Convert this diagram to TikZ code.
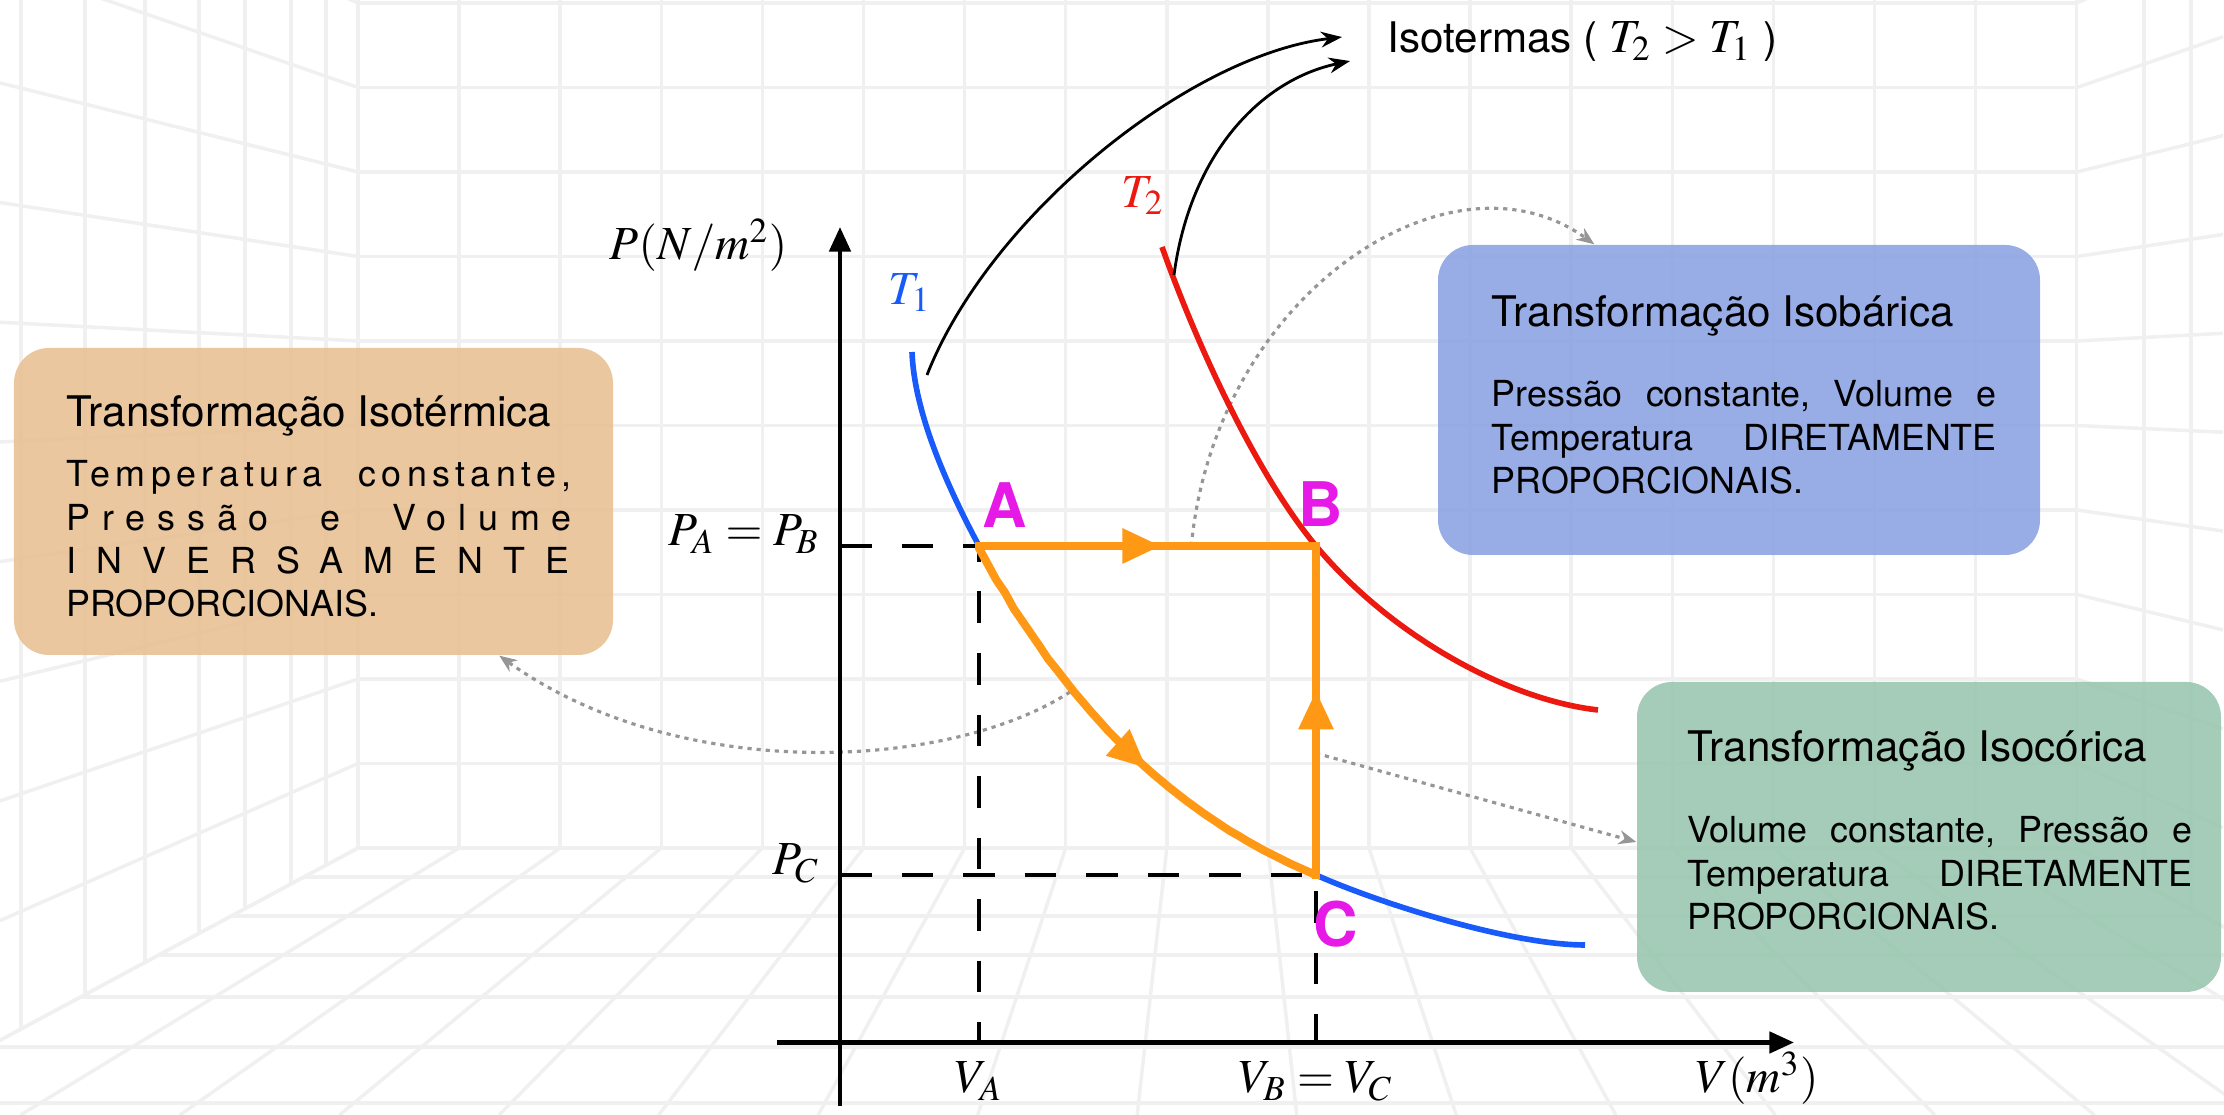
\documentclass[tikz,border=0pt]{standalone}
\usepackage{mathptmx}
\usepackage[no-math]{fontspec}
\setmainfont{TeX Gyre Heros}
\usetikzlibrary{arrows.meta,positioning,calc,decorations.markings}
\definecolor{isoblue}{RGB}{25,90,250}
\definecolor{isored}{RGB}{235,25,15}
\definecolor{cycorange}{RGB}{255,152,20}
\definecolor{ptmagenta}{RGB}{230,25,230}
\definecolor{boxorange}{RGB}{232,194,150}
\definecolor{boxblue}{RGB}{143,165,228}
\definecolor{boxgreen}{RGB}{156,200,178}
\definecolor{gridgray}{RGB}{240,240,240}
\definecolor{hintgray}{RGB}{150,150,150}
\newlength{\boxtw}
\setlength{\boxtw}{5.05cm}
\newcommand{\spaced}[2][0]{\makebox[\boxtw][l]{\addfontfeature{LetterSpace=#1}#2}}
\newcommand{\mathsz}{\fontsize{13.5}{16}\selectfont}

\begin{document}
\begin{tikzpicture}[
  roomline/.style={draw=gridgray, line width=1pt},
  infobox/.style={rounded corners=0.35cm, inner sep=0pt, fill opacity=0.92},
  boxtitle/.style={inner sep=0pt, font=\fontsize{12}{14}\selectfont},
  boxtext/.style={inner sep=0pt, text width=5.05cm, font=\fontsize{10.2}{12.3}\selectfont},
  mathlbl/.style={inner sep=0pt, font=\mathsz},
  ptlbl/.style={inner sep=0pt, ptmagenta, font=\fontsize{17.5}{20}\selectfont\bfseries},
  axisline/.style={line width=1.3pt, -{Triangle[length=7pt,width=6pt]}},
  guide/.style={line width=1.4pt, dash pattern=on 9pt off 8.5pt},
  isoline/.style={line width=1.6pt},
  procline/.style={cycorange, line width=2.3pt},
  midarrow/.style={postaction={decorate}, decoration={markings,
    mark=at position #1 with {\arrow{Triangle[length=11pt,width=9.5pt]}}}},
  tagarrow/.style={line width=0.8pt, -{Stealth[length=6pt,width=4.5pt]}},
  hintarrow/.style={hintgray, line width=0.9pt, dash pattern=on 1.2pt off 1.4pt,
    -{Stealth[length=5pt,width=4pt]}}]

\useasboundingbox (0,0) rectangle (22.24,11.15);

% background room
\begin{scope}
\clip (0,0) rectangle (22.24,11.15);
\coordinate (vp) at (12.18,7.29);
\foreach \i in {0,...,17}{
  \pgfmathsetmacro\xx{3.58+1.011*\i}
  \draw[roomline] (\xx,2.67) -- (\xx,11.15);
  \draw[roomline] (\xx,2.67) -- ($(vp)!1.578!(\xx,2.67)$);
}
\foreach \j in {0,...,12}{
  \pgfmathsetmacro\yy{2.67+0.845*\j}
  \draw[roomline] (3.58,\yy) -- (20.77,\yy);
  \draw[roomline] (3.58,\yy) -- ($(vp)!1.4163!(3.58,\yy)$);
  \draw[roomline] (20.77,\yy) -- ($(vp)!1.17!(20.77,\yy)$);
}
\foreach \x in {0.21,0.85,1.45,1.99,2.45,2.91,3.26}
  \draw[roomline] (\x,{2.67-(3.58-\x)*0.537}) -- (\x,11.15);
\foreach \x in {21.44,21.91}
  \draw[roomline] (\x,{2.67-(\x-20.77)*0.538}) -- (\x,11.15);
\foreach \y in {2.38,1.99,1.60,1.18,0.68,0.12}
  \draw[roomline] ({3.58-(2.67-\y)/0.537},\y) -- ({20.77+(2.67-\y)/0.538},\y);
\end{scope}

% boxes
\node[infobox, fill=boxorange, minimum width=5.99cm, minimum height=3.07cm] (isoT) at (3.135,6.135) {};
\node[infobox, fill=boxblue, minimum width=6.02cm, minimum height=3.10cm] (isoB) at (17.39,7.15) {};
\node[infobox, fill=boxgreen, minimum width=5.84cm, minimum height=3.10cm] (isoV) at (19.29,2.78) {};

\node[boxtitle, anchor=base west] (isoTtitle) at (0.66,6.88) {Transformação Isotérmica};
\node[boxtext, anchor=base west] (isoTbody) at (0.66,6.28) {%
  \spaced[15]{Temperatura \hfill constante,}\par
  \spaced[33]{Pressão \hfill e \hfill Volume}\par
  \spaced[56]{INVERSAMENTE}\par
  PROPORCIONAIS.};

\node[boxtitle, anchor=base west] (isoBtitle) at (14.91,7.88) {Transformação Isobárica};
\node[boxtext, anchor=base west] (isoBbody) at (14.91,7.08) {%
  \spaced{Pressão \hfill constante, \hfill Volume \hfill e}\par
  \spaced{Temperatura \hfill DIRETAMENTE}\par
  PROPORCIONAIS.};

\node[boxtitle, anchor=base west] (isoVtitle) at (16.87,3.53) {Transformação Isocórica};
\node[boxtext, anchor=base west] (isoVbody) at (16.87,2.72) {%
  \spaced{Volume \hfill constante, \hfill Pressão \hfill e}\par
  \spaced{Temperatura \hfill DIRETAMENTE}\par
  PROPORCIONAIS.};

% states
\coordinate (O) at (8.40,0.725);
\coordinate (A) at (9.79,5.69);
\coordinate (B) at (13.16,5.69);
\coordinate (C) at (13.16,2.40);
\path (A) -- (B) coordinate[pos=0.63] (isobar);
\path (C) -- (B) coordinate[pos=0.37] (isochor);
\coordinate (isotherm) at (10.70,4.23);

% hints to the boxes
\draw[hintarrow] (isobar) .. controls (12.15,8.2) and (14.5,9.75) .. ([xshift=1.57cm]isoB.north west);
\draw[hintarrow] (isotherm) .. controls (9.5,3.45) and (6.8,3.3) .. ([xshift=4.86cm]isoT.south west);
\draw[hintarrow] (isochor) -- ([yshift=-0.05cm]isoV.west);

% isotherms
\draw[isoline, isoblue] (9.12,7.63) .. controls (9.14,7.10) and (9.39,6.44) .. (A);
\draw[isoline, isoblue] (C) .. controls (13.76,2.13) and (15.10,1.70) .. (15.85,1.70);
\draw[isoline, isored] (11.62,8.68) .. controls (12.02,7.56) and (12.61,6.35) .. (B)
  .. controls (13.91,4.79) and (15.08,4.15) .. (15.98,4.05);

% guides and axes
\draw[guide] (O |- A) -- (A) -- (A |- O);
\draw[guide] (O |- C) -- (C) -- (C |- O);
\coordinate (ybot) at (8.40,0.09);
\coordinate (ytop) at (8.40,8.88);
\coordinate (xleft) at (7.77,0.725);
\coordinate (xright) at (17.94,0.725);
\draw[axisline] (ybot) -- (ytop);
\draw[axisline] (xleft) -- (xright);

% process
\draw[procline, midarrow=0.58] plot[domain=9.79:13.16, samples=40] (\x,{1.434+316.1*exp(-0.44*\x)});
\draw[procline, line cap=rect, midarrow=0.54] (A) -- (B);
\draw[procline, line cap=rect, midarrow=0.56] (C) -- (B);

% labels
\coordinate (vlbl) at (0,0.22);
\node[mathlbl, anchor=base east] (Plbl) at (7.88,8.55) {$P(N/m^2)$};
\node[mathlbl, anchor=base east] (PAlbl) at ($(O |- A)+(-0.2,0)$) {$P_A = P_B$};
\node[mathlbl, anchor=base east] (PClbl) at ($(O |- C)+(-0.2,0)$) {$P_C$};
\node[mathlbl, anchor=base] (VAlbl) at (A |- vlbl) {$V_A$};
\node[mathlbl, anchor=base] (VBlbl) at (C |- vlbl) {$V_B = V_C$};
\node[mathlbl, anchor=base] (Vlbl) at (17.57,0.22) {$V(m^3)$};
\node[mathlbl, isoblue] (T1lbl) at (9.10,8.22) {$T_1$};
\node[mathlbl, isored] (T2lbl) at (11.43,9.19) {$T_2$};
\node[ptlbl, anchor=base west] (Alab) at ($(A)+(0.03,0.18)$) {A};
\node[ptlbl, anchor=base west] (Blab) at ($(B)+(-0.18,0.19)$) {B};
\node[ptlbl, anchor=base west] (Clab) at ($(C)+(-0.03,-0.72)$) {C};

% isotherm tags
\node[inner sep=0pt, anchor=base west, font=\fontsize{12}{14}\selectfont] (isolbl) at (13.87,10.62) {Isotermas ( {\mathsz$T_2 > T_1$} )};
\coordinate (t1tag) at (9.27,7.40);
\coordinate (t2tag) at (11.74,8.40);
\draw[tagarrow] (t1tag) .. controls (9.9,9.0) and (11.9,10.6) .. ([shift={(-0.45,0.05)}]isolbl.west);
\draw[tagarrow] (t2tag) .. controls (11.9,9.6) and (12.6,10.35) .. ([shift={(-0.37,-0.19)}]isolbl.west);

\end{tikzpicture}
\end{document}
